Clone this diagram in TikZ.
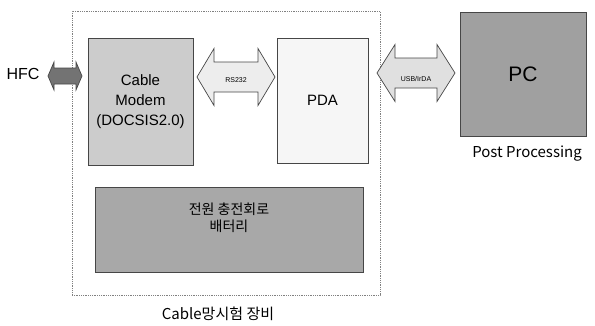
\documentclass[tikz,border=0pt]{standalone}
\usepackage{fontspec}
\setmainfont{Liberation Sans}
\newfontfamily\kr{Noto Sans CJK KR}
\definecolor{modemGray}{RGB}{204,204,204}
\definecolor{pdaGray}{RGB}{246,246,246}
\definecolor{battGray}{RGB}{168,168,168}
\definecolor{pcGray}{RGB}{160,160,160}
\definecolor{hfcGray}{RGB}{115,115,115}
\definecolor{lineGray}{RGB}{70,70,70}

% block double arrow: {xa}{xb}{yc}{half head}{half shaft}{head length}
\newcommand{\blockarrow}[7][]{%
    \draw[#1] (#2,#4) -- (#2+#7,#4-#5) -- (#2+#7,#4-#6) -- (#3-#7,#4-#6)
        -- (#3-#7,#4-#5) -- (#3,#4) -- (#3-#7,#4+#5) -- (#3-#7,#4+#6)
        -- (#2+#7,#4+#6) -- (#2+#7,#4+#5) -- cycle;}

\begin{document}
\begin{tikzpicture}[x=1pt,y=-1pt,
    box/.style={draw=lineGray, line width=0.8pt, inner sep=0pt},
    arrowshape/.style={draw=lineGray, line width=0.7pt},
    tinylabel/.style={font=\fontsize{7}{8}\selectfont, inner sep=0pt}]
    \useasboundingbox (0,0) rectangle (595,325);

    % Outer frame of the test equipment
    \node[draw=gray, densely dotted, line width=0.8pt, minimum width=308pt, minimum height=284pt] (frame) at (226,153) {};

    % Boxes inside the frame
    \node[box, fill=modemGray, minimum width=105pt, minimum height=127pt, align=center,
          font=\fontsize{15}{20}\selectfont] (modem) at (140.5,101.5) {Cable\\Modem\\(DOCSIS2.0)};
    \node[box, fill=pdaGray, minimum width=91pt, minimum height=125pt] (pda) at (322.5,100.5) {};
    \node[font=\fontsize{15}{18}\selectfont] (pdatext) at (pda.center) {PDA};
    \node[box, fill=battGray, minimum width=268pt, minimum height=85pt] (batt) at (229,229.5) {};
    \node[align=center, font=\kr\fontsize{14}{17}\selectfont] (batttext) at (229,218) {전원 충전회로\\배터리};

    % PC outside the frame
    \node[box, fill=pcGray, minimum width=126pt, minimum height=124pt, font=\fontsize{21}{24}\selectfont] (pc) at (523,74) {PC};
    \node[font=\kr\fontsize{15}{18}\selectfont] (post) at (527,154) {Post Processing};

    % HFC side
    \node[font=\fontsize{16}{18}\selectfont] (hfc) at (23,74) {HFC};

    % Block arrows
    \blockarrow[arrowshape, fill=hfcGray]{48}{82}{76}{14}{8}{6}
    \blockarrow[arrowshape, fill=black!7]{197}{275}{77}{28.5}{15}{17}
    \node[tinylabel] (rs) at (236,80) {RS232};
    \blockarrow[arrowshape, fill=black!12]{377}{455}{73}{28.5}{15}{18}
    \node[tinylabel] (usb) at (416,79) {USB/IrDA};

    % Caption
    \node[font=\kr\fontsize{15}{18}\selectfont] (caption) at (218,314) {Cable망시험 장비};
\end{tikzpicture}
\end{document}
